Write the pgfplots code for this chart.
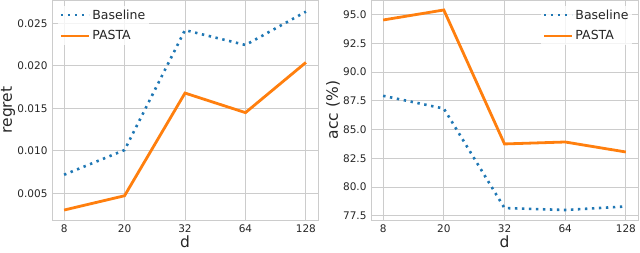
\documentclass[border=0pt]{standalone}
\usepackage{fontspec}
\setmainfont{DejaVu Sans}
\usepackage{pgfplots}
\pgfplotsset{compat=1.18}
\definecolor{tabblue}{HTML}{1F77B4}
\definecolor{taborange}{HTML}{FF7F0E}
\definecolor{gridgray}{HTML}{CCCCCC}
\definecolor{txt}{HTML}{262626}
\newcommand{\lblfont}{\fontsize{15.5}{18}\selectfont}
\newcommand{\legfont}{\fontsize{12.5}{14}\selectfont}
\newcommand{\tickfont}{\fontsize{10.5}{12}\selectfont}
\pgfplotsset{
  myax/.style={
    scale only axis,
    width=266pt, height=220pt,
    xmin=-0.2, xmax=4.2,
    xtick={0,1,2,3,4},
    xticklabels={8,20,32,64,128},
    grid=major,
    major grid style={gridgray, line width=0.9pt},
    axis line style={gridgray, line width=0.9pt},
    major tick length=0pt,
    tick label style={font=\tickfont, text=txt},
    /pgf/number format/assume math mode=true,
    xlabel={\lblfont d},
    xlabel style={at={(axis description cs:0.5,-0.10)}, anchor=center, text=txt},
    xticklabel style={yshift=-1pt},
    yticklabel style={xshift=-1pt},
    legend style={draw=none, fill=white, fill opacity=0.8, text opacity=1,
      text=txt, row sep=6pt, inner sep=2pt},
    legend cell align=left,
    legend image code/.code={\draw[##1] (0pt,0pt) -- (28pt,0pt);},
  },
  baseline/.style={tabblue, line width=2.6pt, dash pattern=on 2.4pt off 4.6pt},
  pasta/.style={taborange, line width=2.8pt},
}
\begin{document}
\begin{tikzpicture}
\useasboundingbox (0pt,0pt) rectangle (640pt,252pt);
\begin{axis}[myax, at={(52pt,32pt)}, anchor=south west,
  ymin=0.00188, ymax=0.02774,
  ytick={0.005,0.010,0.015,0.020,0.025},
  yticklabel style={/pgf/number format/.cd, fixed, fixed zerofill, precision=3},
  scaled y ticks=false,
  ylabel={\lblfont regret},
  ylabel style={at={(axis description cs:-0.165,0.5)}, anchor=center, text=txt},
  legend style={at={(axis description cs:0.02,0.975)}, anchor=north west},
]
\addplot[baseline] coordinates {(0,0.0072) (1,0.0101) (2,0.0242) (3,0.02245) (4,0.02637)};
\addlegendentry{\legfont Baseline}
\addplot[pasta] coordinates {(0,0.00305) (1,0.00473) (2,0.0168) (3,0.0145) (4,0.0204)};
\addlegendentry{\legfont PASTA}
\end{axis}
\begin{axis}[myax, at={(371pt,32pt)}, anchor=south west, width=267pt,
  ymin=77.13, ymax=96.28,
  ytick={77.5,80,82.5,85,87.5,90,92.5,95},
  yticklabel style={/pgf/number format/.cd, fixed, fixed zerofill, precision=1},
  ylabel={\lblfont acc (\%)},
  ylabel style={at={(axis description cs:-0.142,0.5)}, anchor=center, text=txt},
  legend style={at={(axis description cs:0.98,0.975)}, anchor=north east},
]
\addplot[baseline] coordinates {(0,87.94) (1,86.83) (2,78.17) (3,78.0) (4,78.31)};
\addlegendentry{\legfont Baseline}
\addplot[pasta] coordinates {(0,94.54) (1,95.41) (2,83.75) (3,83.92) (4,83.05)};
\addlegendentry{\legfont PASTA}
\end{axis}
\end{tikzpicture}
\end{document}
